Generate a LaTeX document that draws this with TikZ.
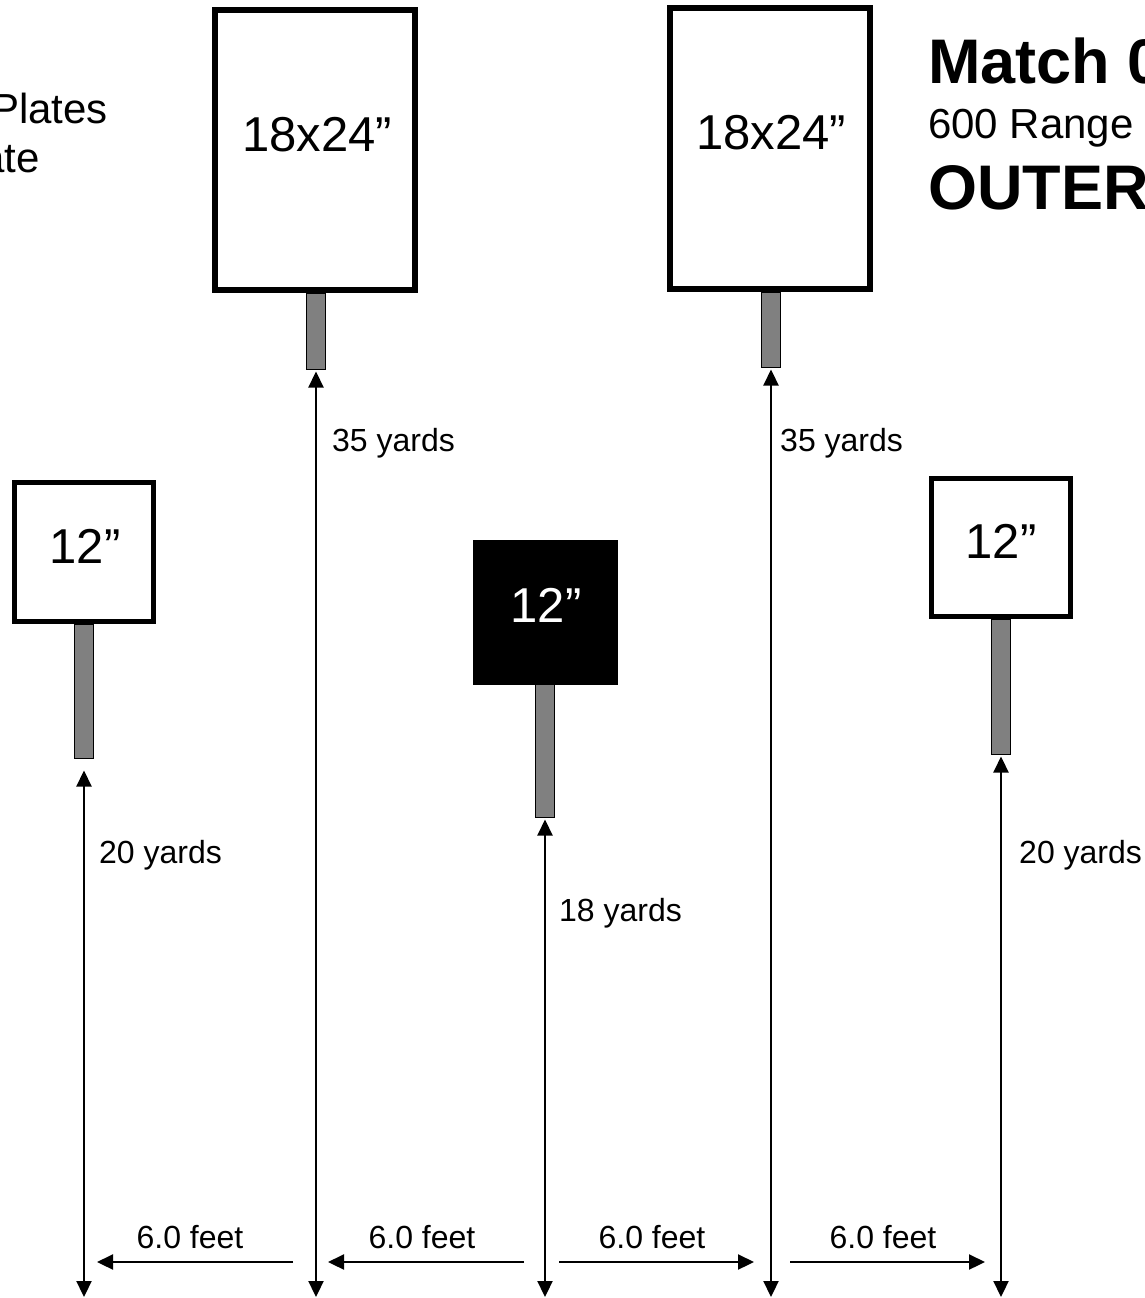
\documentclass[tikz,border=0pt]{standalone}
\usepackage{fontspec}
\setmainfont{Liberation Sans}
\usetikzlibrary{arrows.meta}
\definecolor{stemgray}{RGB}{128,128,128}
\begin{document}
\begin{tikzpicture}[x=1pt,y=-1pt,
  plate/.style={draw=black, line width=5.5pt, fill=white, inner sep=0pt, outer sep=0pt},
  blackplate/.style={draw=black, line width=0.5pt, fill=black, inner sep=0pt, outer sep=0pt},
  stem/.style={draw=black, line width=1.3pt, fill=stemgray, inner sep=0pt, outer sep=0pt, minimum width=19pt},
  platetext/.style={inner sep=0pt, font=\fontsize{49}{56}\selectfont},
  dimtext/.style={inner sep=0pt, font=\fontsize{32}{38}\selectfont},
  dim/.style={line width=2.2pt, {Triangle[width=15pt,length=16pt]}-{Triangle[width=15pt,length=16pt]}},
  harrow/.style={line width=2.2pt, -{Triangle[width=15pt,length=16pt]}}
]
\useasboundingbox (0,0) rectangle (1144,1298);

% stems
\node[stem, minimum height=134pt] (sA) at (84,691.5) {};
\node[stem, minimum height=76pt]  (sB) at (316,331.5) {};
\node[stem, minimum height=75pt]  (sC) at (771,330) {};
\node[stem, minimum height=133pt] (sD) at (545,751) {};
\node[stem, minimum height=135pt] (sE) at (1001,687) {};

% plates
\node[plate, minimum width=139pt, minimum height=139pt] (pA) at (84,552) {};
\node[plate, minimum width=200pt, minimum height=280pt] (pB) at (315,150) {};
\node[plate, minimum width=200pt, minimum height=281pt] (pC) at (770,148.5) {};
\node[blackplate, minimum width=144pt, minimum height=144pt] (pD) at (545,612) {};
\node[plate, minimum width=139pt, minimum height=138pt] (pE) at (1001,547.5) {};

\node[platetext] (tA) at (85,546) {12”};
\node[platetext] (tB) at (317,135) {18x24”};
\node[platetext] (tC) at (771,133) {18x24”};
\node[platetext, text=white] (tD) at (546,605) {12”};
\node[platetext] (tE) at (1001,541) {12”};

% bottom coordinates
\coordinate (bA) at (84,1297);
\coordinate (bB) at (316,1297);
\coordinate (bC) at (771,1297);
\coordinate (bD) at (545,1297);
\coordinate (bE) at (1001,1297);

% distance arrows
\draw[dim, shorten <=12pt] (sA.south) -- (bA);
\draw[dim, shorten <=2pt] (sB.south) -- (bB);
\draw[dim, shorten <=2pt] (sC.south) -- (bC);
\draw[dim, shorten <=2pt] (sD.south) -- (bD);
\draw[dim, shorten <=2pt] (sE.south) -- (bE);

\node[dimtext, anchor=base west] (lA) at (99,863) {20 yards};
\node[dimtext, anchor=base west] (lB) at (332,451) {35 yards};
\node[dimtext, anchor=base west] (lC) at (780,451) {35 yards};
\node[dimtext, anchor=base west] (lD) at (559,921) {18 yards};
\node[dimtext, anchor=base west] (lE) at (1019,863) {20 yards};

% spacing arrows
\coordinate (h1s) at (293,1262); \coordinate (h1e) at (97,1262);
\coordinate (h2s) at (524,1262); \coordinate (h2e) at (328,1262);
\coordinate (h3s) at (559,1262); \coordinate (h3e) at (754,1262);
\coordinate (h4s) at (790,1262); \coordinate (h4e) at (985,1262);
\draw[harrow] (h1s) -- (h1e);
\draw[harrow] (h2s) -- (h2e);
\draw[harrow] (h3s) -- (h3e);
\draw[harrow] (h4s) -- (h4e);
\node[dimtext, anchor=base] (f1) at (190,1248) {6.0 feet};
\node[dimtext, anchor=base] (f2) at (422,1248) {6.0 feet};
\node[dimtext, anchor=base] (f3) at (652,1248) {6.0 feet};
\node[dimtext, anchor=base] (f4) at (883,1248) {6.0 feet};

% titles
\node[inner sep=0pt, anchor=base west, font=\fontsize{63}{70}\selectfont\bfseries] (title) at (928,83) {Match 0};
\node[inner sep=0pt, anchor=base west, font=\fontsize{42}{48}\selectfont] (range) at (928,138) {600 Range};
\node[inner sep=0pt, anchor=base west, font=\fontsize{63}{70}\selectfont\bfseries] (outer) at (928,209) {OUTER};
\node[inner sep=0pt, anchor=base east, font=\fontsize{42}{48}\selectfont] (plates) at (108,123) {Plates};
\node[inner sep=0pt, anchor=base east, font=\fontsize{42}{48}\selectfont] (plate) at (40,172) {ate};
\end{tikzpicture}
\end{document}
